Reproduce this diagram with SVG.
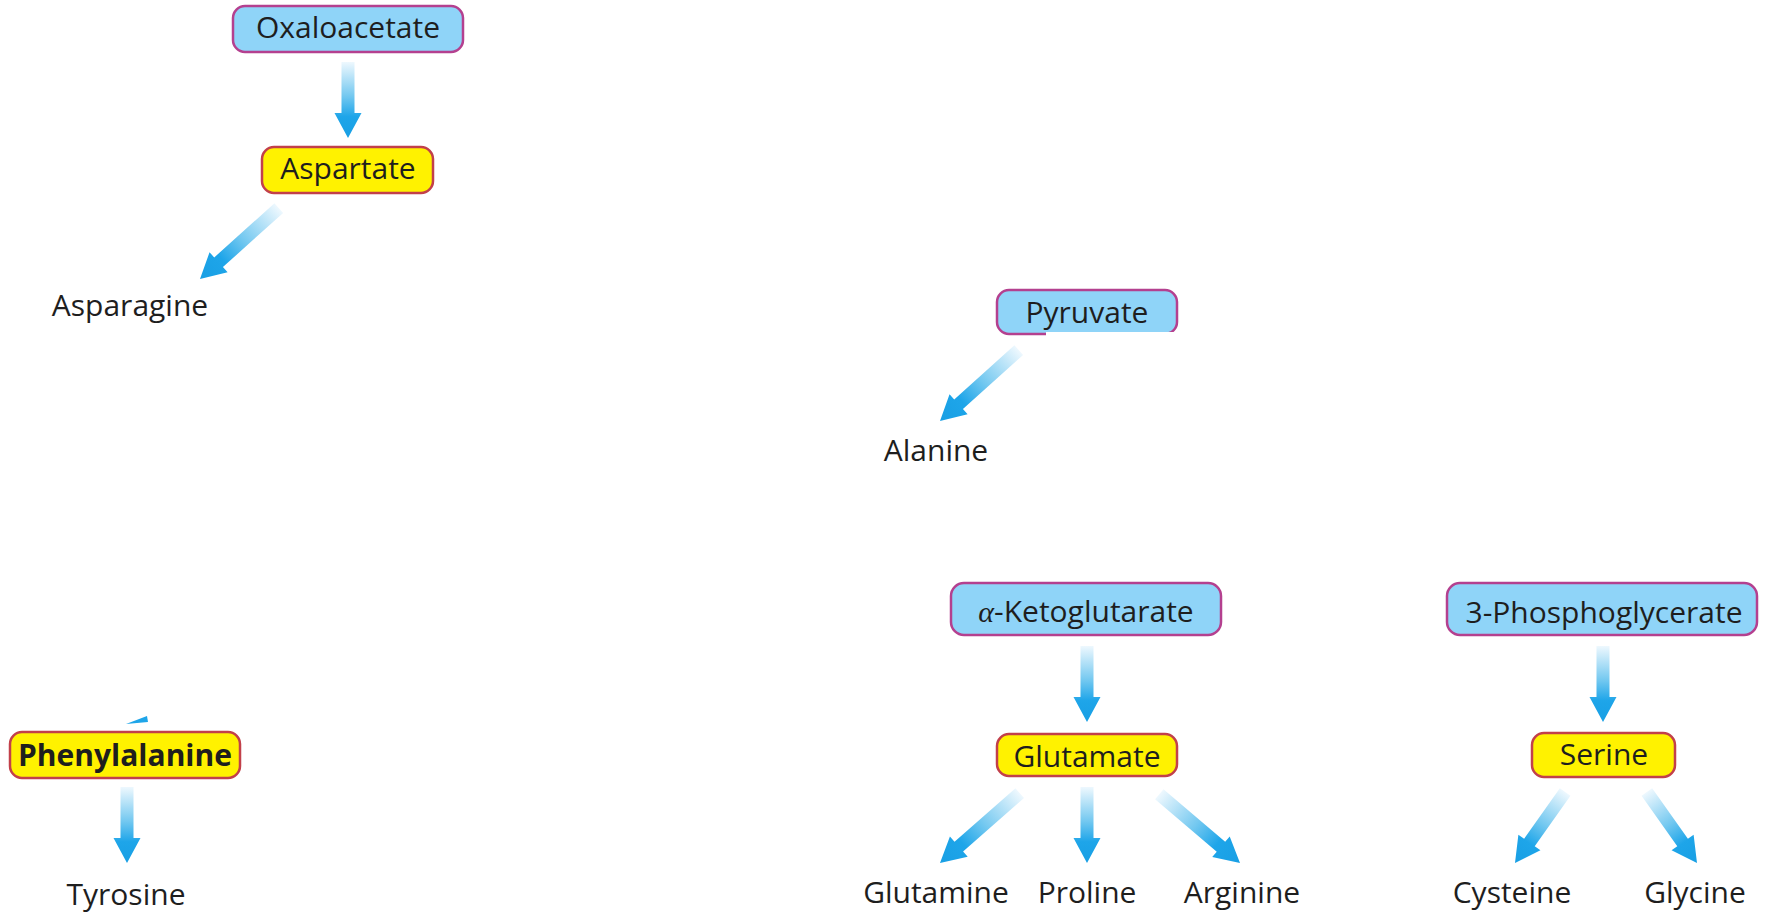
<svg xmlns="http://www.w3.org/2000/svg" xmlns:xlink="http://www.w3.org/1999/xlink" width="1769" height="913" viewBox="0 0 1769 913">
<style>
.bl{fill:#8fd4f8;stroke:#b4408f;stroke-width:2.5}
.ye{fill:#fff200;stroke:#c2404a;stroke-width:2.5}
.t{font-family:"Open Sans","Liberation Sans",sans-serif;font-size:30px;fill:#1e1e1e;text-anchor:middle}
.b{font-weight:bold}
.arr{fill:url(#g)}
</style>
<defs>
<linearGradient id="g" x1="0" y1="0" x2="0" y2="1">
<stop offset="0" stop-color="#eef8fe"/>
<stop offset="0.45" stop-color="#73c8f0"/>
<stop offset="0.72" stop-color="#1ea5e9"/>
<stop offset="1" stop-color="#189fe4"/>
</linearGradient>
<path id="a76" class="arr" d="M-6.5,-76 L6.5,-76 L6.5,-25 L13.5,-25 L0,0 L-13.5,-25 L-6.5,-25 Z"/>
<path id="a106" class="arr" d="M-6.5,-106 L6.5,-106 L6.5,-25 L13.5,-25 L0,0 L-13.5,-25 L-6.5,-25 Z"/>
<path id="a87" class="arr" d="M-6.5,-87 L6.5,-87 L6.5,-25 L13.5,-25 L0,0 L-13.5,-25 L-6.5,-25 Z"/>
</defs>
<rect width="1769" height="913" fill="#fff"/>
<g id="connectors">
<use xlink:href="#a76" transform="translate(348,138)"/>
<use xlink:href="#a106" transform="translate(200,279) rotate(48)"/>
<use xlink:href="#a106" transform="translate(940,421) rotate(48)"/>
<use xlink:href="#a76" transform="translate(127,863)"/>
<use xlink:href="#a76" transform="translate(1087,722)"/>
<use xlink:href="#a106" transform="translate(940,863) rotate(48.8)"/>
<use xlink:href="#a76" transform="translate(1087,863)"/>
<use xlink:href="#a106" transform="translate(1240,863) rotate(-49.6)"/>
<use xlink:href="#a76" transform="translate(1603,722)"/>
<use xlink:href="#a87" transform="translate(1515,863) rotate(35.2)"/>
<use xlink:href="#a87" transform="translate(1697,863) rotate(-35.2)"/>
<polygon points="126,724 147,716 148,722" fill="#1ea5e9"/>
</g>
<g id="oxaloacetate"><rect class="bl" x="233" y="6" width="230" height="46" rx="12"/><text class="t" x="348" y="38">Oxaloacetate</text></g>
<g id="aspartate"><rect class="ye" x="262" y="147" width="171" height="46" rx="12"/><text class="t" x="348" y="179">Aspartate</text></g>
<g id="asparagine"><text class="t" x="130" y="316">Asparagine</text></g>
<g id="pyruvate"><rect class="bl" x="997" y="290" width="180" height="44" rx="12"/><rect x="1046" y="332" width="140" height="10" fill="#fff"/><text class="t" x="1087" y="323">Pyruvate</text></g>
<g id="alanine"><text class="t" x="936" y="461">Alanine</text></g>
<g id="phenylalanine"><rect class="ye" x="10" y="732" width="230" height="46" rx="12"/><text class="t b" x="125" y="766">Phenylalanine</text></g>
<g id="tyrosine"><text class="t" x="126" y="905">Tyrosine</text></g>
<g id="ketoglutarate"><rect class="bl" x="951" y="583" width="270" height="52" rx="13"/><text class="t" x="1086" y="622"><tspan font-family="'Liberation Serif',serif" font-style="italic">α</tspan>-Ketoglutarate</text></g>
<g id="glutamate"><rect class="ye" x="997" y="734" width="180" height="42" rx="12"/><text class="t" x="1087" y="767">Glutamate</text></g>
<g id="glutamine"><text class="t" x="936" y="903">Glutamine</text></g>
<g id="proline"><text class="t" x="1087" y="903">Proline</text></g>
<g id="arginine"><text class="t" x="1242" y="903">Arginine</text></g>
<g id="phosphoglycerate"><rect class="bl" x="1447" y="583" width="310" height="52" rx="13"/><text class="t" x="1604" y="623">3-Phosphoglycerate</text></g>
<g id="serine"><rect class="ye" x="1532" y="733" width="143" height="44" rx="12"/><text class="t" x="1604" y="765">Serine</text></g>
<g id="cysteine"><text class="t" x="1512" y="903">Cysteine</text></g>
<g id="glycine"><text class="t" x="1695" y="903">Glycine</text></g>
</svg>
